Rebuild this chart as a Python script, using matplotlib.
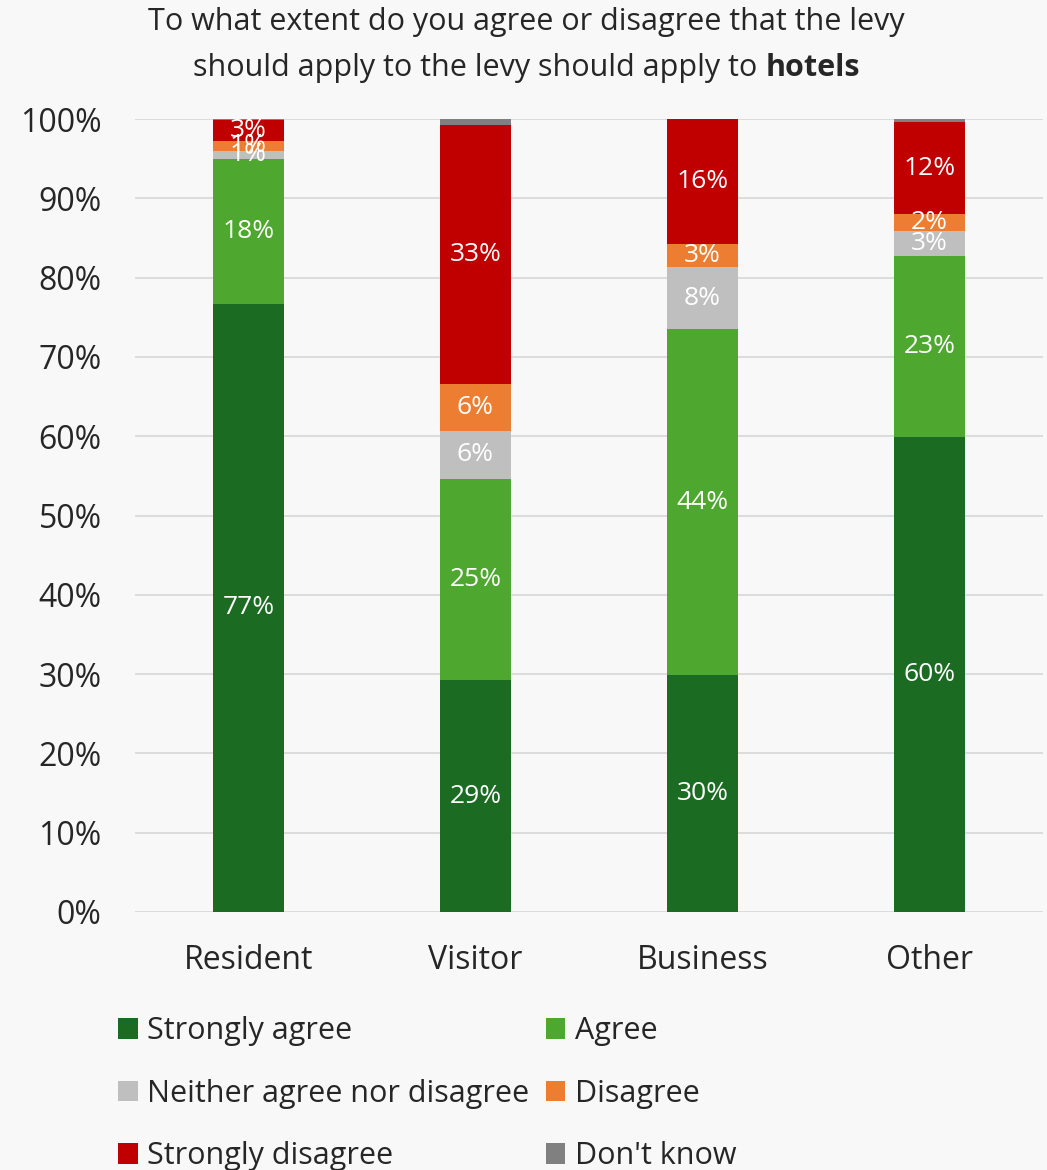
import matplotlib
matplotlib.use("Agg")
import matplotlib.pyplot as plt
import numpy as np

plt.rcParams['font.family'] = ['Open Sans', 'DejaVu Sans']

# data (percent of respondents)
groups = ['Resident', 'Visitor', 'Business', 'Other']
answers = ['Strongly agree', 'Agree', 'Neither agree nor disagree',
           'Disagree', 'Strongly disagree', "Don't know"]
strongly_agree = [76.7, 29.2, 29.9, 59.9]
agree = [18.3, 25.4, 43.6, 22.8]
neither = [1.0, 6.1, 7.8, 3.2]
disagree = [1.2, 5.9, 2.9, 2.1]
strongly_disagree = [2.7, 32.6, 15.8, 11.6]
dont_know = [0.1, 0.8, 0.0, 0.4]

colors = ['#1B6B23', '#4EA72E', '#BFBFBF', '#ED7D31', '#C00000', '#808080']
bg = '#F8F8F8'
txt = '#262626'

series = [strongly_agree, agree, neither, disagree, strongly_disagree, dont_know]

fig = plt.figure(figsize=(10.47, 11.7), dpi=100, facecolor=bg)
ax = fig.add_axes([135/1047, 1 - 912/1170, (1043-135)/1047, (912-119)/1170])
ax.set_facecolor(bg)

x = np.arange(len(groups))
bottom = np.zeros(len(groups))
for name, vals, c in zip(answers, series, colors):
    vals = np.array(vals)
    ax.bar(x, vals, 0.317, bottom=bottom, color=c, label=name, zorder=3)
    if name != "Don't know":
        for xi, b, v in zip(x, bottom, vals):
            if v > 0:
                ax.text(xi, b + v / 2, f"{v:.0f}%", ha='center', va='center',
                        color='white', fontsize=19, zorder=4)
    bottom += vals

ax.set_xlim(-0.5, 3.5)
ax.set_ylim(0, 100)
ax.set_yticks(np.arange(0, 101, 10))
ax.set_yticklabels([f"{v}%" for v in range(0, 101, 10)])
ax.set_xticks(x)
ax.set_xticklabels(groups)
ax.tick_params(axis='both', length=0, labelsize=23, colors=txt)
ax.tick_params(axis='x', pad=23)
ax.tick_params(axis='y', pad=24)
ax.grid(axis='y', color='#D9D9D9', linewidth=1.3, zorder=0)
for s in ax.spines.values():
    s.set_visible(False)

# title, last word in bold
fig.text(0.503, 1 - 22/1170, "To what extent do you agree or disagree that the levy",
         ha='center', va='center', fontsize=22, color=txt)
t1 = fig.text(0, 1 - 68/1170, "should apply to the levy should apply to ",
              ha='left', va='center', fontsize=22, color=txt)
t2 = fig.text(0, 1 - 68/1170, "hotels", ha='left', va='center', fontsize=22,
              color=txt, fontweight='bold')
r = fig.canvas.get_renderer()
w1 = t1.get_window_extent(r).width / fig.bbox.width
w2 = t2.get_window_extent(r).width / fig.bbox.width
x0 = 0.503 - (w1 + w2) / 2
t1.set_x(x0)
t2.set_x(x0 + w1)

handles, labels = ax.get_legend_handles_labels()
order = [0, 2, 4, 1, 3, 5]
fig.legend([handles[i] for i in order], [labels[i] for i in order],
           ncol=2, loc='upper left', bbox_to_anchor=(103/1047, 1 - 1001/1170),
           frameon=False, fontsize=22, handlelength=0.65, handleheight=0.65,
           handletextpad=0.3, columnspacing=0.53, labelspacing=1.06,
           borderpad=0, labelcolor=txt)

fig.savefig('out.png', dpi=100, facecolor=bg)
